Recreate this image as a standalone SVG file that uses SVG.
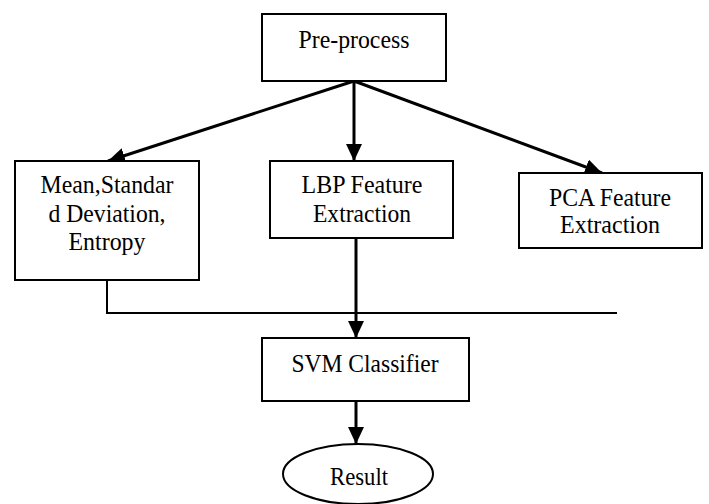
<svg xmlns="http://www.w3.org/2000/svg" width="709" height="504" viewBox="0 0 709 504">
<defs>
<style>
.box{fill:#fff;stroke:#000;stroke-width:2}
.lbl{font-family:"Liberation Serif","DejaVu Serif",serif;font-size:25px;fill:#000;text-anchor:middle}
.con{fill:none;stroke:#000;stroke-width:3}
.bus{fill:none;stroke:#000;stroke-width:2}
</style>
<marker id="arr" markerUnits="userSpaceOnUse" markerWidth="17" markerHeight="16" refX="17" refY="8" orient="auto">
<path d="M0,0 L17,8 L0,16 z" fill="#000"/>
</marker>
</defs>
<rect width="709" height="504" fill="#fff"/>
<g id="connectors">
<path class="con" d="M354,81 L108,161" marker-end="url(#arr)"/>
<path class="con" d="M354,81 L354,161" marker-end="url(#arr)"/>
<path class="con" d="M354,81 L602,173" marker-end="url(#arr)"/>
<path class="con" d="M356,238 L356,338" marker-end="url(#arr)"/>
<path class="con" d="M356,401 L356,444" marker-end="url(#arr)"/>
<path class="bus" d="M107,280 L107,313 L617,313"/>
</g>
<g id="preprocess">
<rect class="box" x="262" y="14" width="184" height="67"/>
<text class="lbl" x="354" y="48" textLength="111" lengthAdjust="spacingAndGlyphs">Pre-process</text>
</g>
<g id="mean">
<rect class="box" x="15" y="161" width="184" height="119"/>
<text class="lbl" x="107" y="193" textLength="133" lengthAdjust="spacingAndGlyphs">Mean,Standar</text>
<text class="lbl" x="107" y="222" textLength="117" lengthAdjust="spacingAndGlyphs">d Deviation,</text>
<text class="lbl" x="107" y="250" textLength="77" lengthAdjust="spacingAndGlyphs">Entropy</text>
</g>
<g id="lbp">
<rect class="box" x="270" y="161" width="183" height="77"/>
<text class="lbl" x="362" y="193" textLength="121" lengthAdjust="spacingAndGlyphs">LBP Feature</text>
<text class="lbl" x="362" y="222" textLength="98" lengthAdjust="spacingAndGlyphs">Extraction</text>
</g>
<g id="pca">
<rect class="box" x="519" y="173" width="183" height="75"/>
<text class="lbl" x="610" y="206" textLength="122" lengthAdjust="spacingAndGlyphs">PCA Feature</text>
<text class="lbl" x="610" y="233" textLength="100" lengthAdjust="spacingAndGlyphs">Extraction</text>
</g>
<g id="svm">
<rect class="box" x="262" y="338" width="207" height="63"/>
<text class="lbl" x="365" y="372" textLength="147" lengthAdjust="spacingAndGlyphs">SVM Classifier</text>
</g>
<g id="result">
<ellipse class="box" cx="358" cy="474" rx="75" ry="30"/>
<text class="lbl" x="359" y="485" textLength="58" lengthAdjust="spacingAndGlyphs">Result</text>
</g>
</svg>
